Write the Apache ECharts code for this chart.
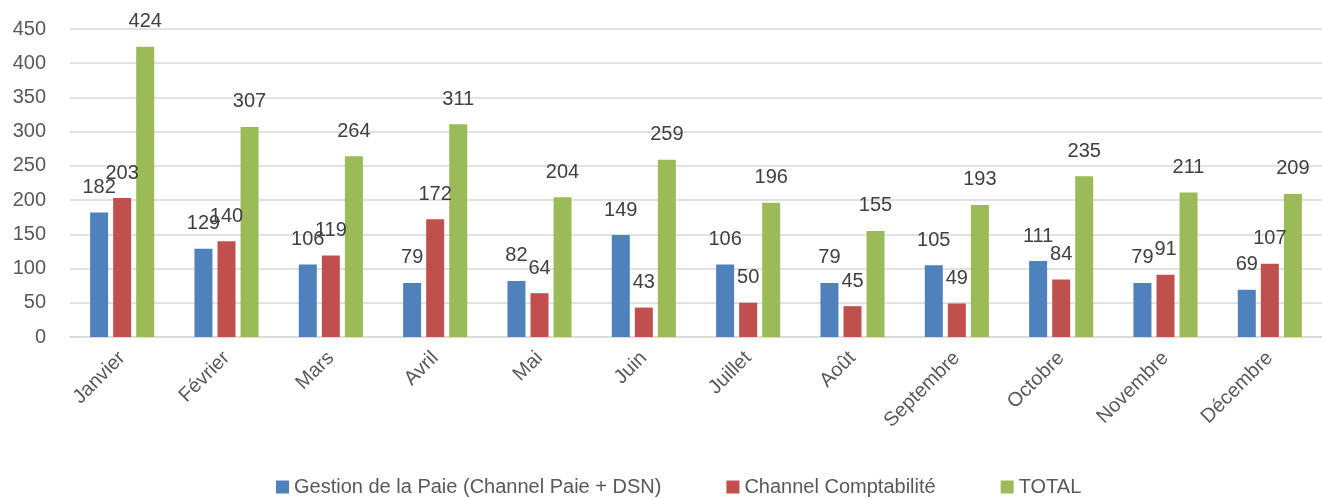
<!DOCTYPE html>
<html>
<head>
<meta charset="utf-8">
<script src="https://cdn.jsdelivr.net/npm/echarts@6/dist/echarts.min.js"></script>
<style>
  html, body { margin: 0; padding: 0; background: #fff; }
  #chart { width: 1322px; height: 498px; }
</style>
</head>
<body>
<div id="chart"></div>
<script>
// mois
const months = ['Janvier', 'Février', 'Mars', 'Avril', 'Mai', 'Juin', 'Juillet', 'Août', 'Septembre', 'Octobre', 'Novembre', 'Décembre'];
const paieData = [182, 129, 106, 79, 82, 149, 106, 79, 105, 111, 79, 69];
const comptaData = [203, 140, 119, 172, 64, 43, 50, 45, 49, 84, 91, 107];
const totalData = [424, 307, 264, 311, 204, 259, 196, 155, 193, 235, 211, 209];
const seriesNames = ['Gestion de la Paie (Channel Paie + DSN)', 'Channel Comptabilité', 'TOTAL'];
const colors = ['#4F81BD', '#C0504D', '#9BBB59'];

const font = 'Liberation Sans';

function makeSeries(name, data, color) {
  return {
    name: name,
    type: 'bar',
    data: data,
    barWidth: 18,
    barGap: '28%',
    itemStyle: { color: color },
    label: {
      show: true,
      position: 'top',
      distance: 15,
      color: '#404040',
      fontSize: 20,
      fontFamily: font
    }
  };
}

const chart = echarts.init(document.getElementById('chart'));
chart.setOption({
  animation: false,
  color: colors,
  grid: { left: 70, top: 29, height: 308, width: 1256 },
  legend: {
    data: seriesNames,
    left: 276,
    top: 477,
    padding: 0,
    icon: 'rect',
    itemWidth: 13,
    itemHeight: 13,
    itemGap: 65,
    textStyle: { color: '#595959', fontSize: 20, fontFamily: font }
  },
  xAxis: {
    type: 'category',
    data: months,
    axisLine: { show: true, lineStyle: { color: '#d9d9d9', width: 1.5 } },
    axisTick: { show: false },
    axisLabel: {
      rotate: 45,
      margin: 18,
      color: '#595959',
      fontSize: 20,
      fontFamily: font
    }
  },
  yAxis: {
    type: 'value',
    min: 0,
    max: 450,
    interval: 50,
    axisLine: { show: false },
    axisTick: { show: false },
    splitLine: { lineStyle: { color: '#d9d9d9', width: 1.5 } },
    axisLabel: {
      margin: 24,
      color: '#595959',
      fontSize: 20,
      fontFamily: font
    }
  },
  series: [
    makeSeries(seriesNames[0], paieData, colors[0]),
    makeSeries(seriesNames[1], comptaData, colors[1]),
    makeSeries(seriesNames[2], totalData, colors[2])
  ]
});
</script>
</body>
</html>
